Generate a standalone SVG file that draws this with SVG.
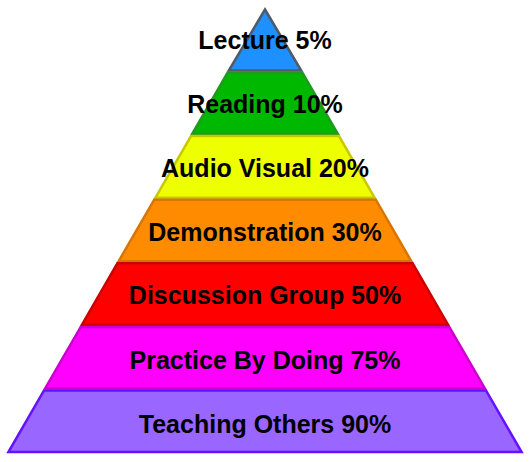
<svg xmlns="http://www.w3.org/2000/svg" width="531" height="462" viewBox="0 0 531 462">
<style>
.layer{stroke-width:2.5;stroke-linejoin:miter}
.lbl{font-family:"Liberation Sans",Arial,sans-serif;font-weight:bold;font-size:25px;fill:#000;text-anchor:middle}
</style>
<rect width="531" height="462" fill="#fff"/>
<g id="lecture">
<polygon class="layer" points="265,9.5 301.2,70.6 228.8,70.6" fill="#1e90ff" stroke="#4f5b66"/>
<text class="lbl" x="265" y="49">Lecture 5%</text>
</g>
<g id="reading">
<polygon class="layer" points="227.7,72.6 302.3,72.6 337.9,134.1 192.1,134.1" fill="#00b800" stroke="#1f9a1f"/>
<text class="lbl" x="265" y="113">Reading 10%</text>
</g>
<g id="audio-visual">
<polygon class="layer" points="191,136.1 339,136.1 374.6,197.7 155.4,197.7" fill="#eeff00" stroke="#c8c800"/>
<text class="lbl" x="265" y="177">Audio Visual 20%</text>
</g>
<g id="demonstration">
<polygon class="layer" points="154.2,199.7 375.8,199.7 411.4,261.3 118.6,261.3" fill="#ff8c00" stroke="#d87400"/>
<text class="lbl" x="265" y="241">Demonstration 30%</text>
</g>
<g id="discussion-group">
<polygon class="layer" points="117.4,263.3 412.6,263.3 448.2,324.9 81.8,324.9" fill="#ff0000" stroke="#cc0000"/>
<text class="lbl" x="265" y="304">Discussion Group 50%</text>
</g>
<g id="practice-by-doing">
<polygon class="layer" points="80.7,326.9 449.3,326.9 484.9,388.4 45.1,388.4" fill="#ff00ff" stroke="#cc00cc"/>
<text class="lbl" x="265" y="369">Practice By Doing 75%</text>
</g>
<g id="teaching-others">
<polygon class="layer" points="44,390.4 486,390.4 521.6,452 8.4,452" fill="#9966ff" stroke="#6611ff"/>
<text class="lbl" x="265" y="433">Teaching Others 90%</text>
</g>
<g id="connectors"/>
</svg>
